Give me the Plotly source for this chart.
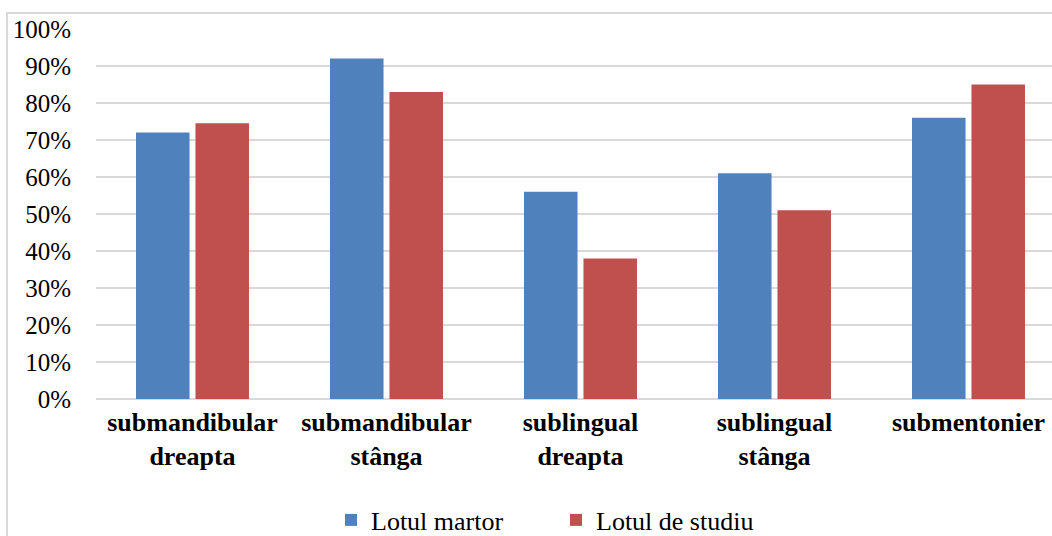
import plotly.graph_objects as go

categories = ["submandibular<br>dreapta", "submandibular<br>stânga", "sublingual<br>dreapta",
              "sublingual<br>stânga", "submentonier"]
lot_martor = [72, 92, 56, 61, 76]
lot_studiu = [74.5, 83, 38, 51, 85]
series_names = ["Lotul martor", "Lotul de studiu"]
tick_vals = [0, 10, 20, 30, 40, 50, 60, 70, 80, 90, 100]
tick_text = [f"{v}%" for v in tick_vals]

FONT = "Liberation Serif"

fig = go.Figure()
fig.add_trace(go.Bar(x=categories, y=lot_martor, name=series_names[0],
                     marker=dict(color="#4F81BD", line=dict(width=0))))
fig.add_trace(go.Bar(x=categories, y=lot_studiu, name=series_names[1],
                     marker=dict(color="#C0504D", line=dict(width=0))))

W, H = 1052, 536
L, R, T, B = 96, 0, 29, 137
pw, ph = W - L - R, H - T - B

def px_x(p):
    return (p - L) / pw

def px_y(p):
    return (H - B - p) / ph

# category axis window: the original plot area runs past the right edge of the image
spacing_px = 194.0
first_center_px = 192.5
x0 = -(first_center_px - L) / spacing_px
x1 = x0 + pw / spacing_px

fig.update_layout(
    width=W, height=H,
    margin=dict(l=L, r=R, t=T, b=B, autoexpand=False),
    paper_bgcolor="white", plot_bgcolor="white",
    barmode="group", bargap=0.387, bargroupgap=0.1,
    font=dict(family=FONT, size=26, color="black"),
    showlegend=True,
    legend=dict(orientation="h", xref="container", x=556 / W, xanchor="center",
                yref="container", y=(H - 520) / H, yanchor="middle",
                font=dict(family=FONT, size=26, color="black"),
                entrywidth=180, entrywidthmode="pixels", traceorder="normal"),
    xaxis=dict(
        tickmode="array", tickvals=categories,
        ticktext=[f"<b>{c}</b>" for c in categories],
        tickfont=dict(family=FONT, size=26, color="black"),
        range=[x0, x1],
        showgrid=False, showline=False, ticks="", zeroline=False, fixedrange=True,
        automargin=False, ticklabelstandoff=5,
    ),
    yaxis=dict(
        range=[0, 100], tickmode="array", tickvals=tick_vals, ticktext=tick_text,
        tickfont=dict(family=FONT, size=25, color="black"),
        showgrid=True, gridcolor="#D9D9D9", gridwidth=2,
        zeroline=True, zerolinecolor="#D9D9D9", zerolinewidth=2,
        showline=False, ticks="", ticklabelstandoff=24, automargin=False, fixedrange=True,
    ),
    shapes=[dict(type="rect", xref="paper", yref="paper",
                 x0=px_x(7), x1=px_x(1070), y0=px_y(545), y1=px_y(13),
                 line=dict(color="#D9D9D9", width=2), fillcolor="rgba(0,0,0,0)", layer="below")],
)

fig.write_html("out.html", config={"displayModeBar": False},
               post_script="document.body.style.margin='0';document.body.style.overflow='hidden';")
